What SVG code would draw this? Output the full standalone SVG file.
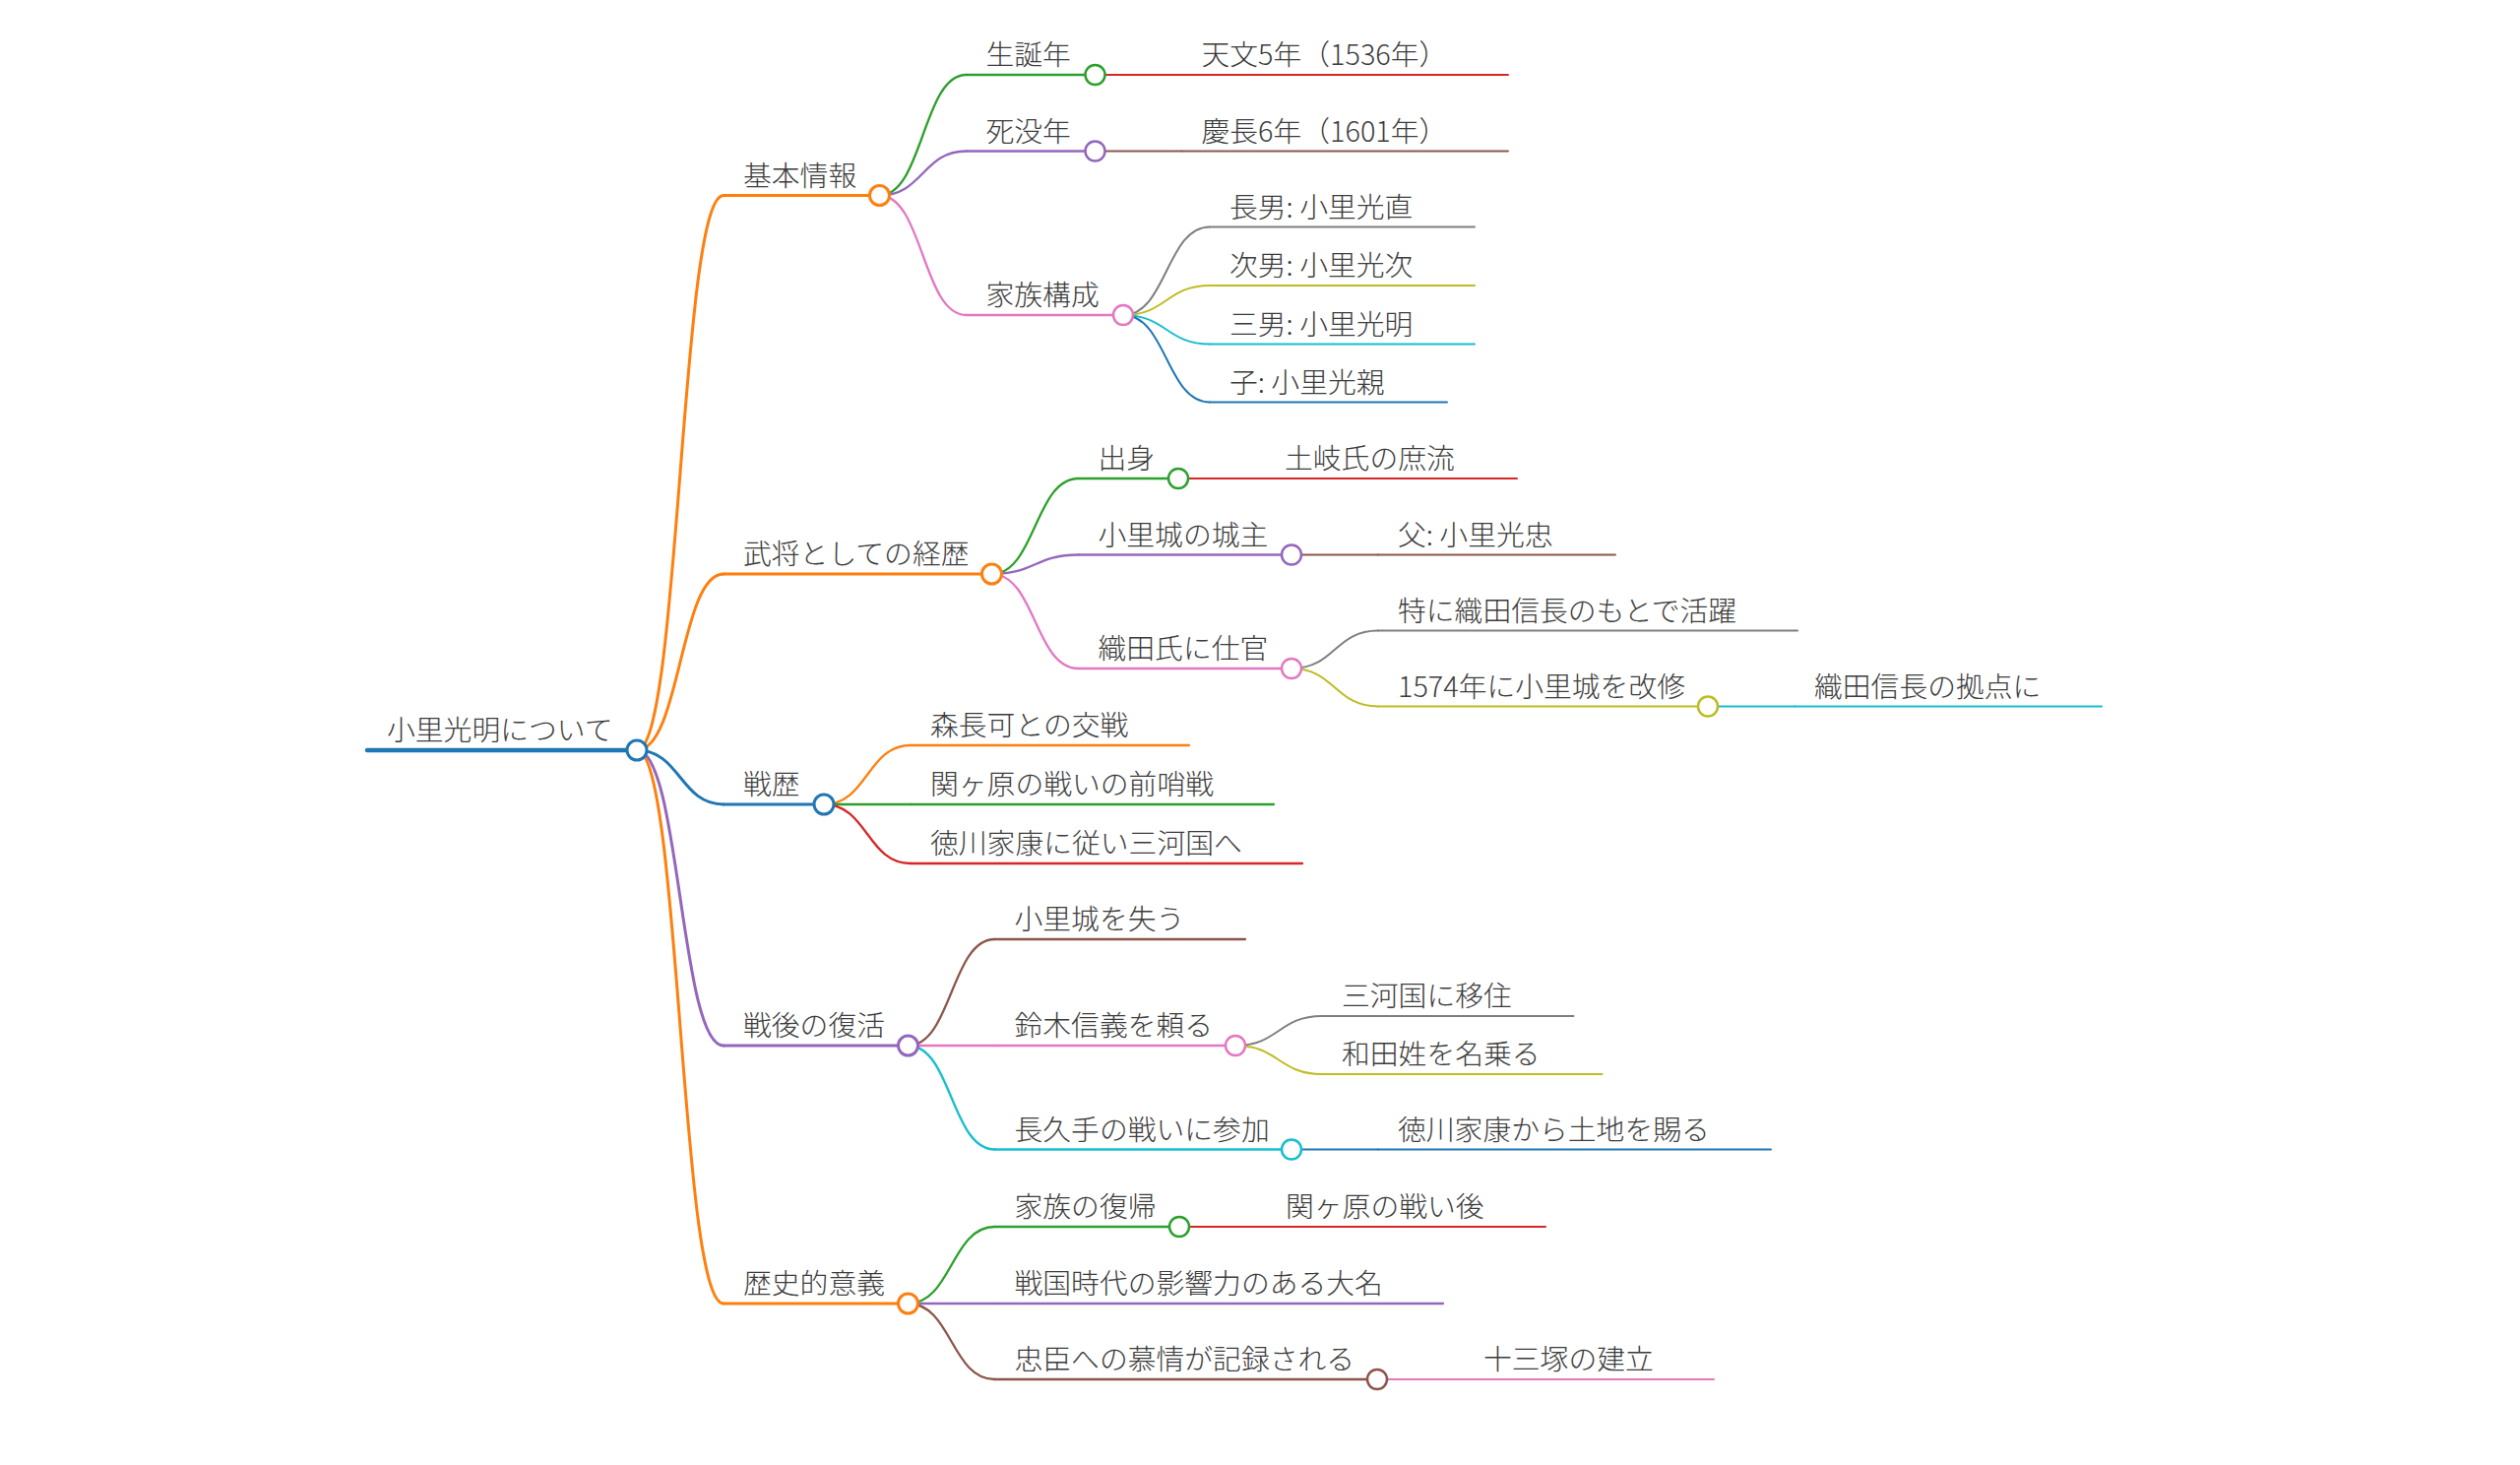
<svg xmlns="http://www.w3.org/2000/svg" width="2560" height="1488" viewBox="0 0 2560 1488">
<style>
.t{font-family:"Noto Sans CJK JP Light","Noto Sans CJK JP","Noto Sans",sans-serif;font-size:28.8px;font-weight:300;fill:#3c3c3c}
.k{fill:none;stroke-linecap:round}
.c{fill:#fff}
.d0{stroke-width:4.5}.d1{stroke-width:3}.d2{stroke-width:2.3}.d3{stroke-width:2}
.cr0{stroke-width:3}.cr{stroke-width:2.5}
.blue{stroke:#1f77b4}.orange{stroke:#ff7f0e}.green{stroke:#2ca02c}.red{stroke:#d62728}.purple{stroke:#9467bd}.brown{stroke:#8c564b}.pink{stroke:#e377c2}.gray{stroke:#7f7f7f}.olive{stroke:#bcbd22}.cyan{stroke:#17becf}
</style>
<rect width="2560" height="1488" fill="#fff"/>
<g id="connectors" fill="none">
<path class="k d1 orange" d="M647 762C691 762 691 198.5 735 198.5"/>
<path class="k d1 orange" d="M647 762C691 762 691 583 735 583"/>
<path class="k d1 blue" d="M647 762C691 762 691 817 735 817"/>
<path class="k d1 purple" d="M647 762C691 762 691 1062 735 1062"/>
<path class="k d1 orange" d="M647 762C691 762 691 1324 735 1324"/>
<path class="k d2 green" d="M893.5 198.5C937.5 198.5 937.5 76 981.5 76"/>
<path class="k d2 purple" d="M893.5 198.5C937.5 198.5 937.5 153.5 981.5 153.5"/>
<path class="k d2 pink" d="M893.5 198.5C937.5 198.5 937.5 320 981.5 320"/>
<path class="k d3 red" d="M1112.5 76H1200.5"/>
<path class="k d3 brown" d="M1112.5 153.5H1200.5"/>
<path class="k d3 gray" d="M1141 320C1185 320 1185 230.5 1229 230.5"/>
<path class="k d3 olive" d="M1141 320C1185 320 1185 290 1229 290"/>
<path class="k d3 cyan" d="M1141 320C1185 320 1185 349.5 1229 349.5"/>
<path class="k d3 blue" d="M1141 320C1185 320 1185 408.5 1229 408.5"/>
<path class="k d2 green" d="M1007.5 583C1051.5 583 1051.5 486 1095.5 486"/>
<path class="k d2 purple" d="M1007.5 583C1051.5 583 1051.5 563.5 1095.5 563.5"/>
<path class="k d2 pink" d="M1007.5 583C1051.5 583 1051.5 679 1095.5 679"/>
<path class="k d3 red" d="M1197 486H1285"/>
<path class="k d3 brown" d="M1312 563.5H1400"/>
<path class="k d3 gray" d="M1312 679C1356 679 1356 640.5 1400 640.5"/>
<path class="k d3 olive" d="M1312 679C1356 679 1356 717.5 1400 717.5"/>
<path class="k d3 cyan" d="M1735 717.5H1823"/>
<path class="k d2 orange" d="M837 817C881 817 881 757 925 757"/>
<path class="k d2 green" d="M837 817H925"/>
<path class="k d2 red" d="M837 817C881 817 881 877 925 877"/>
<path class="k d2 brown" d="M922.5 1062C966.5 1062 966.5 954 1010.5 954"/>
<path class="k d2 pink" d="M922.5 1062H1010.5"/>
<path class="k d2 cyan" d="M922.5 1062C966.5 1062 966.5 1167.5 1010.5 1167.5"/>
<path class="k d3 gray" d="M1255 1062C1299 1062 1299 1032 1343 1032"/>
<path class="k d3 olive" d="M1255 1062C1299 1062 1299 1091 1343 1091"/>
<path class="k d3 blue" d="M1312 1167.5H1400"/>
<path class="k d2 green" d="M922.5 1324C966.5 1324 966.5 1246 1010.5 1246"/>
<path class="k d2 purple" d="M922.5 1324H1010.5"/>
<path class="k d2 brown" d="M922.5 1324C966.5 1324 966.5 1401 1010.5 1401"/>
<path class="k d3 red" d="M1198 1246H1286"/>
<path class="k d3 pink" d="M1399 1401H1487"/>
</g>
<g id="n-root"><line class="k d0 blue" x1="373" y1="762" x2="647" y2="762"/><circle class="c cr0 blue" cx="647" cy="762" r="10"/><text class="t" x="393" y="752">小里光明について</text></g>
<g id="n-kihon"><line class="k d1 orange" x1="735" y1="198.5" x2="893.5" y2="198.5"/><circle class="c cr0 orange" cx="893.5" cy="198.5" r="10"/><text class="t" x="755" y="188.5">基本情報</text></g>
<g id="n-seitan"><line class="k d2 green" x1="981.5" y1="76" x2="1112.5" y2="76"/><circle class="c cr green" cx="1112.5" cy="76" r="10"/><text class="t" x="1001.5" y="66">生誕年</text></g>
<g id="n-seitan-v"><line class="k d3 red" x1="1200.5" y1="76" x2="1532" y2="76"/><text class="t" x="1220.5" y="66">天文5年（1536年）</text></g>
<g id="n-shibotsu"><line class="k d2 purple" x1="981.5" y1="153.5" x2="1112.5" y2="153.5"/><circle class="c cr purple" cx="1112.5" cy="153.5" r="10"/><text class="t" x="1001.5" y="143.5">死没年</text></g>
<g id="n-shibotsu-v"><line class="k d3 brown" x1="1200.5" y1="153.5" x2="1532" y2="153.5"/><text class="t" x="1220.5" y="143.5">慶長6年（1601年）</text></g>
<g id="n-kazoku"><line class="k d2 pink" x1="981.5" y1="320" x2="1141" y2="320"/><circle class="c cr pink" cx="1141" cy="320" r="10"/><text class="t" x="1001.5" y="310">家族構成</text></g>
<g id="n-chounan"><line class="k d3 gray" x1="1229" y1="230.5" x2="1498" y2="230.5"/><text class="t" x="1249" y="220.5">長男: 小里光直</text></g>
<g id="n-jinan"><line class="k d3 olive" x1="1229" y1="290" x2="1498" y2="290"/><text class="t" x="1249" y="280">次男: 小里光次</text></g>
<g id="n-sannan"><line class="k d3 cyan" x1="1229" y1="349.5" x2="1498" y2="349.5"/><text class="t" x="1249" y="339.5">三男: 小里光明</text></g>
<g id="n-ko"><line class="k d3 blue" x1="1229" y1="408.5" x2="1470" y2="408.5"/><text class="t" x="1249" y="398.5">子: 小里光親</text></g>
<g id="n-busho"><line class="k d1 orange" x1="735" y1="583" x2="1007.5" y2="583"/><circle class="c cr0 orange" cx="1007.5" cy="583" r="10"/><text class="t" x="755" y="573">武将としての経歴</text></g>
<g id="n-shusshin"><line class="k d2 green" x1="1095.5" y1="486" x2="1197" y2="486"/><circle class="c cr green" cx="1197" cy="486" r="10"/><text class="t" x="1115.5" y="476">出身</text></g>
<g id="n-toki"><line class="k d3 red" x1="1285" y1="486" x2="1541" y2="486"/><text class="t" x="1305" y="476">土岐氏の庶流</text></g>
<g id="n-joushu"><line class="k d2 purple" x1="1095.5" y1="563.5" x2="1312" y2="563.5"/><circle class="c cr purple" cx="1312" cy="563.5" r="10"/><text class="t" x="1115.5" y="553.5">小里城の城主</text></g>
<g id="n-chichi"><line class="k d3 brown" x1="1400" y1="563.5" x2="1641" y2="563.5"/><text class="t" x="1420" y="553.5">父: 小里光忠</text></g>
<g id="n-oda"><line class="k d2 pink" x1="1095.5" y1="679" x2="1312" y2="679"/><circle class="c cr pink" cx="1312" cy="679" r="10"/><text class="t" x="1115.5" y="669">織田氏に仕官</text></g>
<g id="n-katsuyaku"><line class="k d3 gray" x1="1400" y1="640.5" x2="1826" y2="640.5"/><text class="t" x="1420" y="630.5">特に織田信長のもとで活躍</text></g>
<g id="n-1574"><line class="k d3 olive" x1="1400" y1="717.5" x2="1735" y2="717.5"/><circle class="c cr olive" cx="1735" cy="717.5" r="10"/><text class="t" x="1420" y="707.5">1574年に小里城を改修</text></g>
<g id="n-kyoten"><line class="k d3 cyan" x1="1823" y1="717.5" x2="2135" y2="717.5"/><text class="t" x="1843" y="707.5">織田信長の拠点に</text></g>
<g id="n-senreki"><line class="k d1 blue" x1="735" y1="817" x2="837" y2="817"/><circle class="c cr0 blue" cx="837" cy="817" r="10"/><text class="t" x="755" y="807">戦歴</text></g>
<g id="n-mori"><line class="k d2 orange" x1="925" y1="757" x2="1208" y2="757"/><text class="t" x="945" y="747">森長可との交戦</text></g>
<g id="n-sekigahara"><line class="k d2 green" x1="925" y1="817" x2="1294" y2="817"/><text class="t" x="945" y="807">関ヶ原の戦いの前哨戦</text></g>
<g id="n-tokugawa"><line class="k d2 red" x1="925" y1="877" x2="1323" y2="877"/><text class="t" x="945" y="867">徳川家康に従い三河国へ</text></g>
<g id="n-fukkatsu"><line class="k d1 purple" x1="735" y1="1062" x2="922.5" y2="1062"/><circle class="c cr0 purple" cx="922.5" cy="1062" r="10"/><text class="t" x="755" y="1052">戦後の復活</text></g>
<g id="n-ushinau"><line class="k d2 brown" x1="1010.5" y1="954" x2="1265" y2="954"/><text class="t" x="1030.5" y="944">小里城を失う</text></g>
<g id="n-suzuki"><line class="k d2 pink" x1="1010.5" y1="1062" x2="1255" y2="1062"/><circle class="c cr pink" cx="1255" cy="1062" r="10"/><text class="t" x="1030.5" y="1052">鈴木信義を頼る</text></g>
<g id="n-ijuu"><line class="k d3 gray" x1="1343" y1="1032" x2="1598.5" y2="1032"/><text class="t" x="1363" y="1022">三河国に移住</text></g>
<g id="n-wada"><line class="k d3 olive" x1="1343" y1="1091" x2="1627.5" y2="1091"/><text class="t" x="1363" y="1081">和田姓を名乗る</text></g>
<g id="n-nagakute"><line class="k d2 cyan" x1="1010.5" y1="1167.5" x2="1312" y2="1167.5"/><circle class="c cr cyan" cx="1312" cy="1167.5" r="10"/><text class="t" x="1030.5" y="1157.5">長久手の戦いに参加</text></g>
<g id="n-tochi"><line class="k d3 blue" x1="1400" y1="1167.5" x2="1799" y2="1167.5"/><text class="t" x="1420" y="1157.5">徳川家康から土地を賜る</text></g>
<g id="n-igi"><line class="k d1 orange" x1="735" y1="1324" x2="922.5" y2="1324"/><circle class="c cr0 orange" cx="922.5" cy="1324" r="10"/><text class="t" x="755" y="1314">歴史的意義</text></g>
<g id="n-fukki"><line class="k d2 green" x1="1010.5" y1="1246" x2="1198" y2="1246"/><circle class="c cr green" cx="1198" cy="1246" r="10"/><text class="t" x="1030.5" y="1236">家族の復帰</text></g>
<g id="n-sengo"><line class="k d3 red" x1="1286" y1="1246" x2="1570" y2="1246"/><text class="t" x="1306" y="1236">関ヶ原の戦い後</text></g>
<g id="n-daimyo"><line class="k d2 purple" x1="1010.5" y1="1324" x2="1466" y2="1324"/><text class="t" x="1030.5" y="1314">戦国時代の影響力のある大名</text></g>
<g id="n-boshou"><line class="k d2 brown" x1="1010.5" y1="1401" x2="1399" y2="1401"/><circle class="c cr brown" cx="1399" cy="1401" r="10"/><text class="t" x="1030.5" y="1391">忠臣への慕情が記録される</text></g>
<g id="n-juusan"><line class="k d3 pink" x1="1487" y1="1401" x2="1741" y2="1401"/><text class="t" x="1507" y="1391">十三塚の建立</text></g>
</svg>
